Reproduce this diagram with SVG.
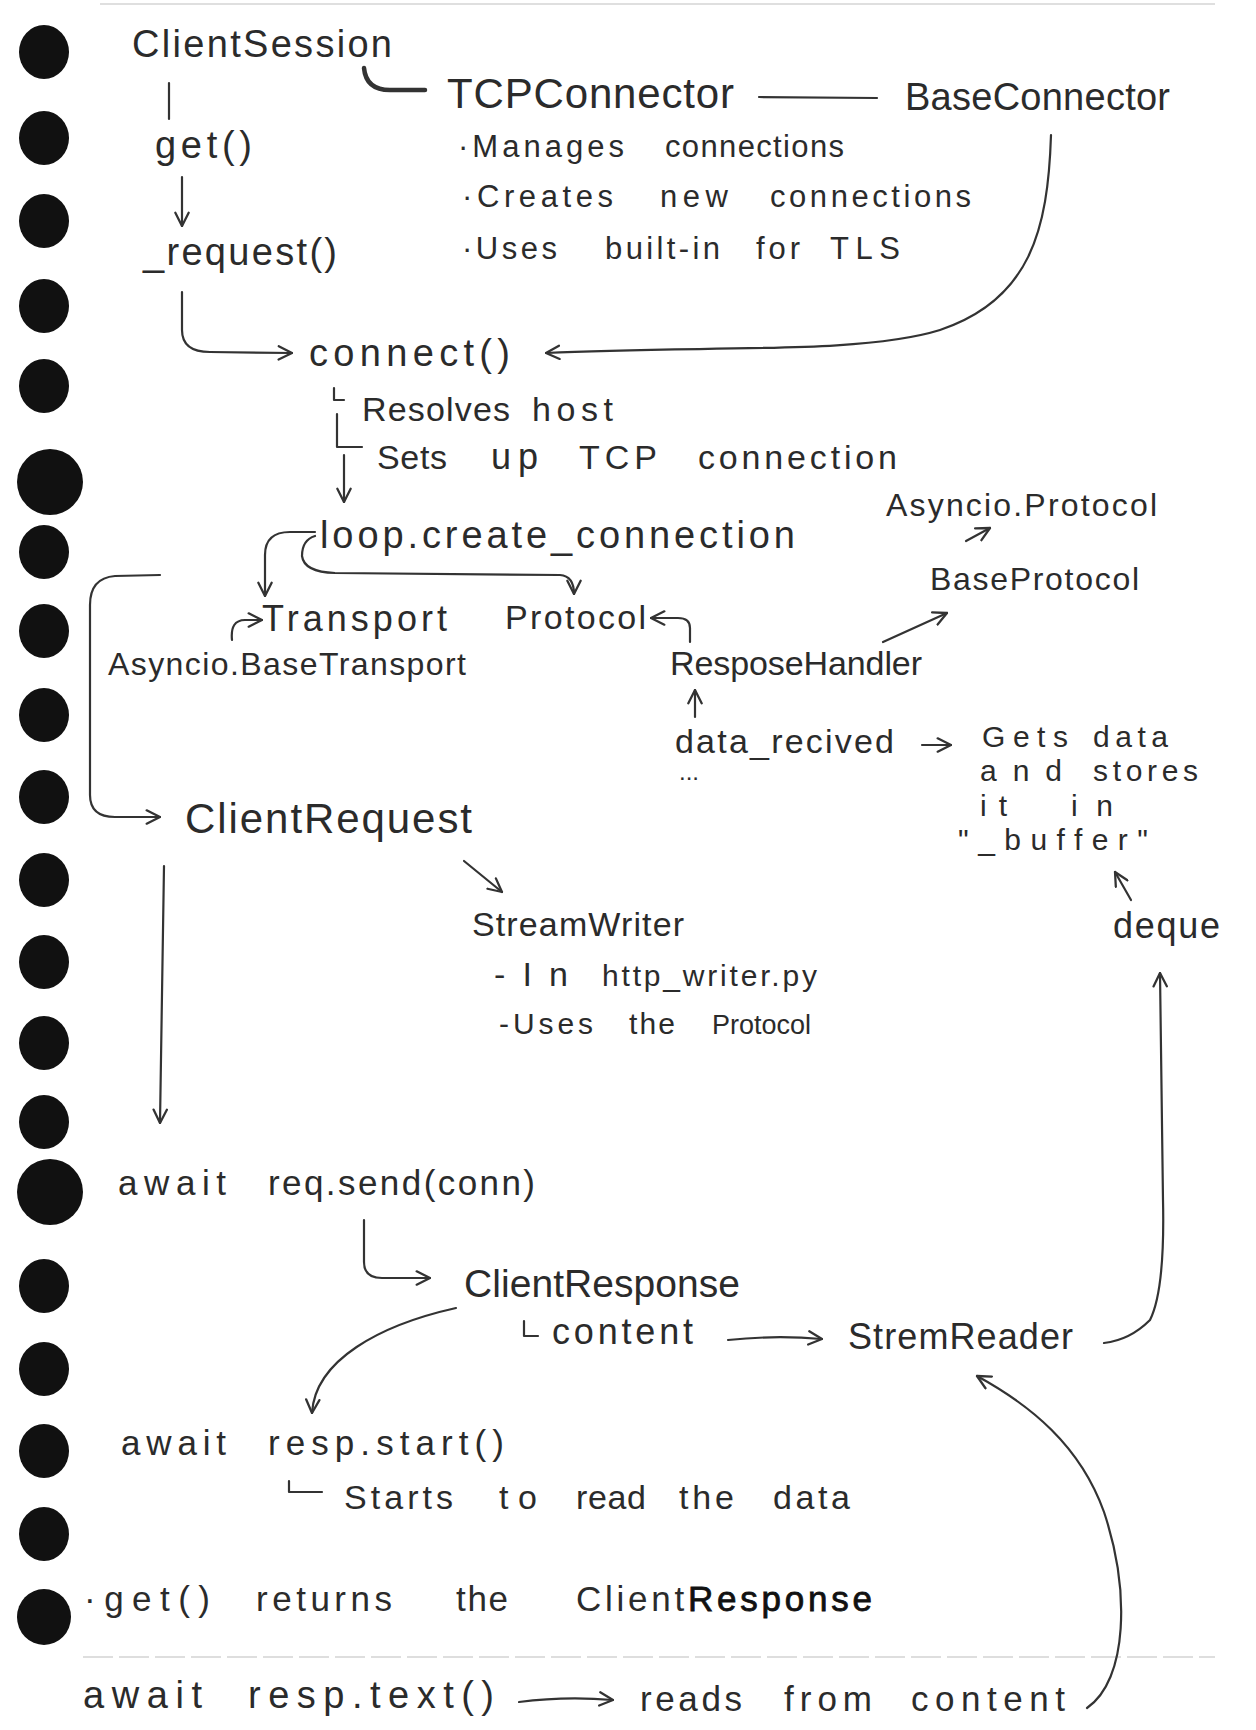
<svg xmlns="http://www.w3.org/2000/svg" width="1256" height="1730" viewBox="0 0 1256 1730">
<defs>
<style>
.t{font-family:"Liberation Sans","DejaVu Sans",sans-serif;fill:#2b2b2b;}
.c{fill:none;stroke:#333;stroke-width:2.2;stroke-linecap:round;stroke-linejoin:round;}
.h{fill:#111;}
.rule{stroke:#d4d4d4;stroke-width:1.5;}
</style>
<marker id="a" viewBox="0 0 12 12" refX="11" refY="6" markerWidth="16" markerHeight="16" markerUnits="userSpaceOnUse" orient="auto">
<path d="M1,1 L11,6 L1,11" fill="none" stroke="#333" stroke-width="1.7" stroke-linecap="round" stroke-linejoin="round"/>
</marker>
</defs>
<rect width="1256" height="1730" fill="#fff"/>
<g id="paper">
<line class="rule" x1="100" y1="4" x2="1215" y2="4"/>
<line class="rule" x1="83" y1="1657" x2="1215" y2="1657" stroke-dasharray="30 6"/>
</g>
<g id="holes">
<ellipse class="h" cx="44" cy="52" rx="25" ry="27"/>
<ellipse class="h" cx="44" cy="138" rx="25" ry="27"/>
<ellipse class="h" cx="44" cy="221" rx="25" ry="27"/>
<ellipse class="h" cx="44" cy="306" rx="25" ry="27"/>
<ellipse class="h" cx="44" cy="386" rx="25" ry="27"/>
<ellipse class="h" cx="50" cy="482" rx="33" ry="33"/>
<ellipse class="h" cx="44" cy="552" rx="25" ry="27"/>
<ellipse class="h" cx="44" cy="631" rx="25" ry="27"/>
<ellipse class="h" cx="44" cy="715" rx="25" ry="27"/>
<ellipse class="h" cx="44" cy="797" rx="25" ry="27"/>
<ellipse class="h" cx="44" cy="880" rx="25" ry="27"/>
<ellipse class="h" cx="44" cy="962" rx="25" ry="27"/>
<ellipse class="h" cx="44" cy="1043" rx="25" ry="27"/>
<ellipse class="h" cx="44" cy="1122" rx="25" ry="27"/>
<ellipse class="h" cx="50" cy="1192" rx="33" ry="33"/>
<ellipse class="h" cx="44" cy="1286" rx="25" ry="27"/>
<ellipse class="h" cx="44" cy="1369" rx="25" ry="27"/>
<ellipse class="h" cx="44" cy="1451" rx="25" ry="27"/>
<ellipse class="h" cx="44" cy="1534" rx="25" ry="27"/>
<ellipse class="h" cx="44" cy="1617" rx="27" ry="28"/>
</g>
<g id="connectors">
<path class="c" d="M169,83 L169,119"/>
<path class="c" d="M182,177 L182,226" marker-end="url(#a)"/>
<path class="c" d="M182,292 L182,330 Q182,352 210,352 L292,353" marker-end="url(#a)"/>
<path class="c" d="M364,68 Q366,90 390,90 L425,90" style="stroke-width:4.5"/>
<path class="c" d="M759,97 L877,98"/>
<path class="c" d="M1051,135 C1048,230 1030,300 940,330 C860,355 700,345 546,353" marker-end="url(#a)"/>
<path class="c" d="M334,388 L334,400 L344,400"/>
<path class="c" d="M337,414 L337,447 L362,447"/>
<path class="c" d="M344,455 L344,502" marker-end="url(#a)"/>
<path class="c" d="M315,532 L290,532 Q265,532 265,555 L265,596" marker-end="url(#a)"/>
<path class="c" d="M315,536 Q302,540 302,556 Q304,572 335,573 L560,575 Q574,576 574,594" marker-end="url(#a)"/>
<path class="c" d="M232,640 Q230,620 245,620 L262,620" marker-end="url(#a)"/>
<path class="c" d="M690,642 L690,628 Q690,618 678,618 L651,618" marker-end="url(#a)"/>
<path class="c" d="M883,642 L947,613" marker-end="url(#a)"/>
<path class="c" d="M966,541 L990,528" marker-end="url(#a)"/>
<path class="c" d="M695,717 L695,690" marker-end="url(#a)"/>
<path class="c" d="M922,745 L951,745" marker-end="url(#a)"/>
<path class="c" d="M1131,900 L1115,872" marker-end="url(#a)"/>
<path class="c" d="M1104,1343 Q1130,1340 1150,1320 Q1165,1290 1163,1200 L1160,973" marker-end="url(#a)"/>
<path class="c" d="M160,575 L115,576 Q90,578 90,605 L90,795 Q90,817 115,817 L160,817" marker-end="url(#a)"/>
<path class="c" d="M464,861 L502,892" marker-end="url(#a)"/>
<path class="c" d="M164,866 L160,1123" marker-end="url(#a)"/>
<path class="c" d="M364,1220 L364,1262 Q364,1278 382,1278 L430,1278" marker-end="url(#a)"/>
<path class="c" d="M524,1321 L524,1336 L538,1336"/>
<path class="c" d="M728,1340 Q775,1335 822,1339" marker-end="url(#a)"/>
<path class="c" d="M456,1308 C380,1325 315,1360 312,1413" marker-end="url(#a)"/>
<path class="c" d="M289,1481 L289,1492 L322,1492"/>
<path class="c" d="M519,1702 Q565,1696 613,1700" marker-end="url(#a)"/>
<path class="c" d="M1087,1708 C1128,1680 1130,1590 1104,1512 C1080,1445 1030,1405 977,1376" marker-end="url(#a)"/>
</g>
<g id="ClientSession"><text class="t" x="132" y="57" font-size="38" textLength="260" lengthAdjust="spacing">ClientSession</text></g>
<g id="TCPConnector"><text class="t" x="447" y="108" font-size="42" textLength="287" lengthAdjust="spacing">TCPConnector</text></g>
<g id="BaseConnector"><text class="t" x="905" y="110" font-size="38" textLength="265" lengthAdjust="spacing">BaseConnector</text></g>
<g id="TCPConnectorNotes" font-size="31">
<text class="t" x="458" y="157" textLength="166" lengthAdjust="spacing">·Manages</text>
<text class="t" x="665" y="157" textLength="179" lengthAdjust="spacing">connections</text>
<text class="t" x="462" y="207" textLength="151" lengthAdjust="spacing">·Creates</text>
<text class="t" x="660" y="207" textLength="68" lengthAdjust="spacing">new</text>
<text class="t" x="770" y="207" textLength="201" lengthAdjust="spacing">connections</text>
<text class="t" x="462" y="259" textLength="95" lengthAdjust="spacing">·Uses</text>
<text class="t" x="605" y="259" textLength="115" lengthAdjust="spacing">built-in</text>
<text class="t" x="756" y="259" textLength="44" lengthAdjust="spacing">for</text>
<text class="t" x="830" y="259" textLength="70" lengthAdjust="spacing">TLS</text>
</g>
<g id="get"><text class="t" x="155" y="158" font-size="38" textLength="97" lengthAdjust="spacing">get()</text></g>
<g id="request"><text class="t" x="143" y="265" font-size="38" textLength="194" lengthAdjust="spacing">_request()</text></g>
<g id="connect" font-size="34">
<text class="t" x="309" y="366" font-size="38" textLength="201" lengthAdjust="spacing">connect()</text>
<text class="t" x="362" y="421" textLength="148" lengthAdjust="spacing">Resolves</text>
<text class="t" x="532" y="421" textLength="81" lengthAdjust="spacing">host</text>
<text class="t" x="377" y="469" textLength="70" lengthAdjust="spacing">Sets</text>
<text class="t" x="491" y="469" font-size="36" textLength="47" lengthAdjust="spacing">up</text>
<text class="t" x="579" y="469" textLength="78" lengthAdjust="spacing">TCP</text>
<text class="t" x="698" y="469" textLength="199" lengthAdjust="spacing">connection</text>
</g>
<g id="loop"><text class="t" x="320" y="548" font-size="38" textLength="475" lengthAdjust="spacing">loop.create_connection</text></g>
<g id="Transport">
<text class="t" x="262" y="631" font-size="36" textLength="185" lengthAdjust="spacing">Transport</text>
<text class="t" x="108" y="675" font-size="32" textLength="358" lengthAdjust="spacing">Asyncio.BaseTransport</text>
</g>
<g id="Protocol"><text class="t" x="505" y="629" font-size="34" textLength="141" lengthAdjust="spacing">Protocol</text></g>
<g id="ResposeHandler"><text class="t" x="670" y="675" font-size="34" textLength="252" lengthAdjust="spacing">ResposeHandler</text></g>
<g id="BaseProtocol"><text class="t" x="930" y="590" font-size="32" textLength="209" lengthAdjust="spacing">BaseProtocol</text></g>
<g id="AsyncioProtocol"><text class="t" x="886" y="516" font-size="32" textLength="271" lengthAdjust="spacing">Asyncio.Protocol</text></g>
<g id="data_recived">
<text class="t" x="675" y="753" font-size="34" textLength="219" lengthAdjust="spacing">data_recived</text>
<text class="t" x="679" y="780" font-size="24">...</text>
</g>
<g id="GetsData" font-size="30">
<text class="t" x="982" y="747" textLength="86" lengthAdjust="spacing">Gets</text>
<text class="t" x="1093" y="747" textLength="75" lengthAdjust="spacing">data</text>
<text class="t" x="980" y="781" textLength="82" lengthAdjust="spacing">and</text>
<text class="t" x="1093" y="781" textLength="105" lengthAdjust="spacing">stores</text>
<text class="t" x="980" y="816" textLength="27" lengthAdjust="spacing">it</text>
<text class="t" x="1071" y="816" textLength="42" lengthAdjust="spacing">in</text>
<text class="t" x="958" y="850" textLength="190" lengthAdjust="spacing">"_buffer"</text>
</g>
<g id="deque"><text class="t" x="1113" y="938" font-size="36" textLength="107" lengthAdjust="spacing">deque</text></g>
<g id="ClientRequest"><text class="t" x="185" y="833" font-size="42" textLength="287" lengthAdjust="spacing">ClientRequest</text></g>
<g id="StreamWriter" font-size="30">
<text class="t" x="472" y="936" font-size="34" textLength="212" lengthAdjust="spacing">StreamWriter</text>
<text class="t" x="494" y="986" font-size="34" textLength="74" lengthAdjust="spacing">-In</text>
<text class="t" x="602" y="986" textLength="215" lengthAdjust="spacing">http_writer.py</text>
<text class="t" x="499" y="1034" textLength="94" lengthAdjust="spacing">-Uses</text>
<text class="t" x="629" y="1034" textLength="46" lengthAdjust="spacing">the</text>
<text class="t" x="712" y="1034" font-size="27" textLength="99" lengthAdjust="spacing">Protocol</text>
</g>
<g id="send" font-size="35">
<text class="t" x="118" y="1195" textLength="108" lengthAdjust="spacing">await</text>
<text class="t" x="268" y="1195" textLength="267" lengthAdjust="spacing">req.send(conn)</text>
</g>
<g id="ClientResponse">
<text class="t" x="464" y="1297" font-size="39" textLength="276" lengthAdjust="spacing">ClientResponse</text>
<text class="t" x="552" y="1344" font-size="36" textLength="141" lengthAdjust="spacing">content</text>
</g>
<g id="StremReader"><text class="t" x="848" y="1349" font-size="36" textLength="225" lengthAdjust="spacing">StremReader</text></g>
<g id="start" font-size="34">
<text class="t" x="121" y="1455" font-size="35" textLength="105" lengthAdjust="spacing">await</text>
<text class="t" x="268" y="1455" font-size="35" textLength="236" lengthAdjust="spacing">resp.start()</text>
<text class="t" x="344" y="1509" textLength="109" lengthAdjust="spacing">Starts</text>
<text class="t" x="499" y="1509" textLength="38" lengthAdjust="spacing">to</text>
<text class="t" x="576" y="1509" textLength="70" lengthAdjust="spacing">read</text>
<text class="t" x="679" y="1509" textLength="55" lengthAdjust="spacing">the</text>
<text class="t" x="773" y="1509" textLength="77" lengthAdjust="spacing">data</text>
</g>
<g id="returns" font-size="35">
<text class="t" x="84" y="1611" textLength="126" lengthAdjust="spacing">·get()</text>
<text class="t" x="256" y="1611" textLength="136" lengthAdjust="spacing">returns</text>
<text class="t" x="456" y="1611" textLength="52" lengthAdjust="spacing">the</text>
<text class="t" x="576" y="1611" textLength="296" lengthAdjust="spacing">Client<tspan fill="#111" stroke="#111" stroke-width="0.8">Response</tspan></text>
</g>
<g id="text">
<text class="t" x="83" y="1708" font-size="38" textLength="119" lengthAdjust="spacing">await</text>
<text class="t" x="248" y="1708" font-size="38" textLength="246" lengthAdjust="spacing">resp.text()</text>
<text class="t" x="640" y="1711" font-size="35" textLength="102" lengthAdjust="spacing">reads</text>
<text class="t" x="784" y="1711" font-size="35" textLength="88" lengthAdjust="spacing">from</text>
<text class="t" x="911" y="1711" font-size="35" textLength="154" lengthAdjust="spacing">content</text>
</g>
</svg>
